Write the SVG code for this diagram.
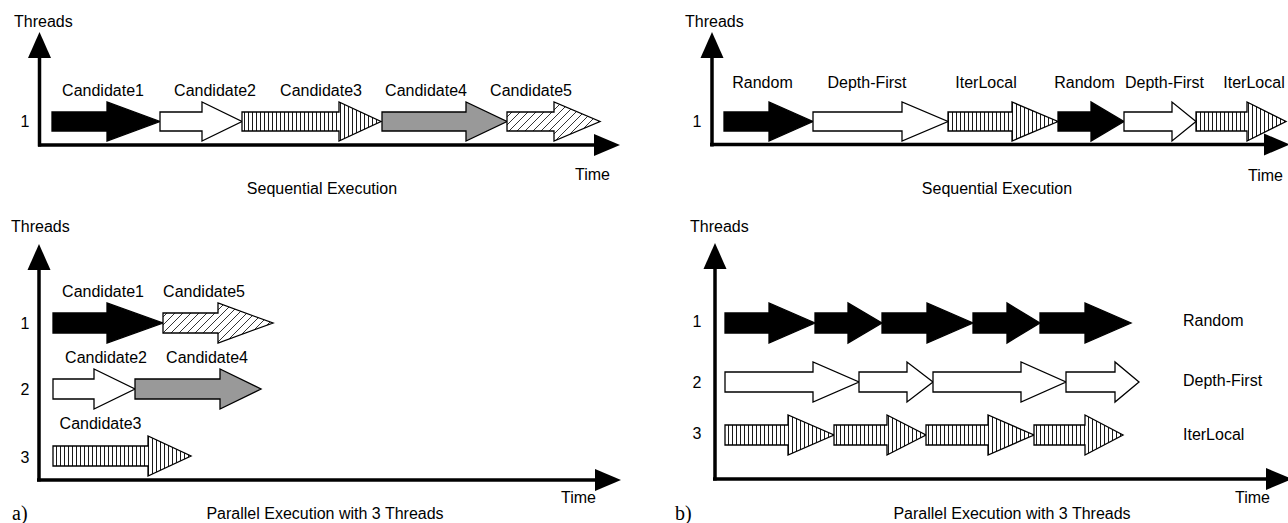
<svg xmlns="http://www.w3.org/2000/svg" width="1288" height="523" viewBox="0 0 1288 523">
<defs>
<pattern id="vh" patternUnits="userSpaceOnUse" width="4" height="10">
<rect width="4" height="10" fill="#fff"/>
<line x1="0.5" y1="0" x2="0.5" y2="10" stroke="#000" stroke-width="0.9"/>
</pattern>
<pattern id="dh" patternUnits="userSpaceOnUse" width="8" height="8">
<rect width="8" height="8" fill="#fff"/>
<path d="M-1,9 L9,-1 M-1,1 L1,-1 M7,9 L9,7" stroke="#000" stroke-width="0.8"/>
</pattern>
</defs>
<style>
.t{font-family:"Liberation Sans",Arial,sans-serif;font-size:16px;fill:#000}
.c{text-anchor:middle}
.s{font-family:"Liberation Serif","Times New Roman",serif;font-size:20px;fill:#000}
.a{stroke:#000;stroke-width:1.3;stroke-linejoin:miter}
.blk{fill:#000}
.wht{fill:#fff}
.gry{fill:#999}
.vh{fill:url(#vh)}
.dh{fill:url(#dh)}
.ax{stroke:#000;stroke-width:3.5;fill:none}
.ah{fill:#000}
</style>
<rect width="1288" height="523" fill="#fff"/>

<g id="connectors">
<line class="ax" x1="39.5" y1="146.5" x2="39.5" y2="56"/><polygon class="ah" points="28,58 51,58 39.5,32"/>
<line class="ax" x1="38" y1="145" x2="596" y2="145"/><polygon class="ah" points="594,134 594,156 620,145"/>
<line class="ax" x1="712" y1="146.5" x2="712" y2="56"/><polygon class="ah" points="700.5,58 723.5,58 712,32"/>
<line class="ax" x1="710" y1="144.5" x2="1266" y2="144.5"/><polygon class="ah" points="1264,133.5 1264,155.5 1290,144.5"/>
<line class="ax" x1="39" y1="481.5" x2="39" y2="268"/><polygon class="ah" points="27.5,270 50.5,270 39,244"/>
<line class="ax" x1="37" y1="480" x2="597" y2="480"/><polygon class="ah" points="595,469 595,491 621,480"/>
<line class="ax" x1="715" y1="480.5" x2="715" y2="267"/><polygon class="ah" points="703.5,269 726.5,269 715,243"/>
<line class="ax" x1="713" y1="479" x2="1268" y2="479"/><polygon class="ah" points="1266,468 1266,490 1292,479"/>
</g>

<g id="panel-a-top">
<text class="t" x="14" y="27">Threads</text>
<text class="t c" x="25" y="127">1</text>
<text class="t" x="575" y="180">Time</text>
<text class="t c" x="322" y="194">Sequential Execution</text>
<g id="a1-c1"><path class="a blk" d="M52,112 H107 V102 L160,121.5 L107,141 V131 H52 Z"/><text class="t c" x="103" y="96">Candidate1</text></g>
<g id="a1-c2"><path class="a wht" d="M160,112 H202 V102 L242,121.5 L202,141 V131 H160 Z"/><text class="t c" x="215" y="96">Candidate2</text></g>
<g id="a1-c3"><path class="a vh" d="M242,112 H339 V102 L381,121.5 L339,141 V131 H242 Z"/><text class="t c" x="321" y="96">Candidate3</text></g>
<g id="a1-c4"><path class="a gry" d="M382,112 H466 V102 L507,121.5 L466,141 V131 H382 Z"/><text class="t c" x="426" y="96">Candidate4</text></g>
<g id="a1-c5"><path class="a dh" d="M507,112 H554 V102 L600,121.5 L554,141 V131 H507 Z"/><text class="t c" x="531" y="96">Candidate5</text></g>
</g>

<g id="panel-a-bottom">
<text class="t" x="11" y="232">Threads</text>
<text class="t c" x="25" y="329">1</text>
<text class="t c" x="25" y="395">2</text>
<text class="t c" x="25" y="463">3</text>
<text class="t" x="561" y="503">Time</text>
<text class="t c" x="325" y="519">Parallel Execution with 3 Threads</text>
<text class="s" x="12" y="520">a)</text>
<g id="a2-c1"><path class="a blk" d="M53,313 H107 V303 L163,323 L107,343 V333 H53 Z"/><text class="t c" x="103" y="297">Candidate1</text></g>
<g id="a2-c5"><path class="a dh" d="M163,313 H218 V303 L273,323 L218,343 V333 H163 Z"/><text class="t c" x="204" y="297">Candidate5</text></g>
<g id="a2-c2"><path class="a wht" d="M53,379 H94 V369 L135,389 L94,409 V399 H53 Z"/><text class="t c" x="106" y="363">Candidate2</text></g>
<g id="a2-c4"><path class="a gry" d="M135,379 H220 V369 L261,389 L220,409 V399 H135 Z"/><text class="t c" x="207" y="363">Candidate4</text></g>
<g id="a2-c3"><path class="a vh" d="M53,446 H148 V436 L191,456 L148,476 V466 H53 Z"/><text class="t c" x="100.5" y="429">Candidate3</text></g>
</g>

<g id="panel-b-top">
<text class="t" x="685" y="27">Threads</text>
<text class="t c" x="697" y="127">1</text>
<text class="t" x="1248" y="181">Time</text>
<text class="t c" x="997" y="194">Sequential Execution</text>
<g id="b1-r1"><path class="a blk" d="M724,112 H769 V102 L813,121.5 L769,141 V131 H724 Z"/><text class="t c" x="762.5" y="88">Random</text></g>
<g id="b1-d1"><path class="a wht" d="M813,112 H902 V102 L948,121.5 L902,141 V131 H813 Z"/><text class="t c" x="867" y="88">Depth-First</text></g>
<g id="b1-i1"><path class="a vh" d="M948,112 H1012 V102 L1058,121.5 L1012,141 V131 H948 Z"/><text class="t c" x="986" y="88">IterLocal</text></g>
<g id="b1-r2"><path class="a blk" d="M1058,112 H1091 V102 L1124,121.5 L1091,141 V131 H1058 Z"/><text class="t c" x="1084.5" y="88">Random</text></g>
<g id="b1-d2"><path class="a wht" d="M1124,112 H1172 V102 L1196,121.5 L1172,141 V131 H1124 Z"/><text class="t c" x="1164.5" y="88">Depth-First</text></g>
<g id="b1-i2"><path class="a vh" d="M1196,112 H1247 V102 L1286,121.5 L1247,141 V131 H1196 Z"/><text class="t c" x="1254" y="88">IterLocal</text></g>
</g>

<g id="panel-b-bottom">
<text class="t" x="690" y="232">Threads</text>
<text class="t c" x="697" y="327">1</text>
<text class="t c" x="697" y="388">2</text>
<text class="t c" x="697" y="439">3</text>
<text class="t" x="1235" y="503">Time</text>
<text class="t c" x="1012" y="519">Parallel Execution with 3 Threads</text>
<text class="s" x="675" y="520">b)</text>
<g id="b2-random">
<path class="a blk" d="M725,313 H769 V303 L815,323 L769,343 V333 H725 Z"/>
<path class="a blk" d="M815,313 H848 V303 L882,323 L848,343 V333 H815 Z"/>
<path class="a blk" d="M882,313 H927 V303 L973,323 L927,343 V333 H882 Z"/>
<path class="a blk" d="M973,313 H1007 V303 L1040,323 L1007,343 V333 H973 Z"/>
<path class="a blk" d="M1040,313 H1085 V303 L1131,323 L1085,343 V333 H1040 Z"/>
<text class="t" x="1183" y="326">Random</text>
</g>
<g id="b2-depth">
<path class="a wht" d="M725,372 H813 V362 L859,382 L813,402 V392 H725 Z"/>
<path class="a wht" d="M859,372 H907 V362 L933,382 L907,402 V392 H859 Z"/>
<path class="a wht" d="M933,372 H1021 V362 L1066,382 L1021,402 V392 H933 Z"/>
<path class="a wht" d="M1066,372 H1115 V362 L1139,382 L1115,402 V392 H1066 Z"/>
<text class="t" x="1183" y="386">Depth-First</text>
</g>
<g id="b2-iter">
<path class="a vh" d="M725,425 H788 V415 L834,435 L788,455 V445 H725 Z"/>
<path class="a vh" d="M834,425 H887 V415 L926,435 L887,455 V445 H834 Z"/>
<path class="a vh" d="M926,425 H988 V415 L1034,435 L988,455 V445 H926 Z"/>
<path class="a vh" d="M1034,425 H1085 V415 L1123,435 L1085,455 V445 H1034 Z"/>
<text class="t" x="1183" y="440">IterLocal</text>
</g>
</g>
</svg>
